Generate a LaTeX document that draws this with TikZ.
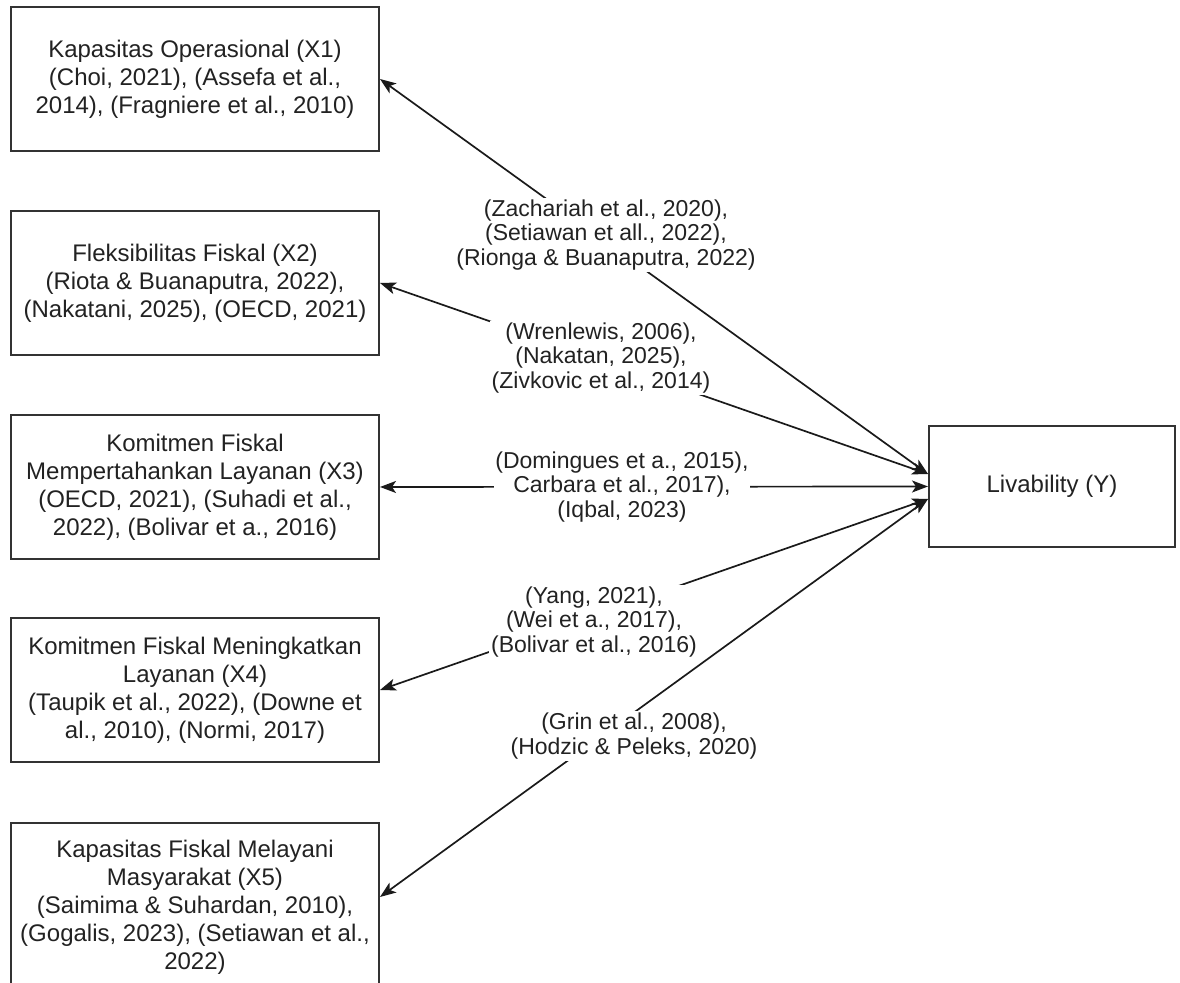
\documentclass[tikz,border=0pt]{standalone}
\usepackage{fontspec}
\setmainfont{Liberation Sans}
\usetikzlibrary{arrows.meta}

\definecolor{boxline}{HTML}{333333}
\definecolor{edgeline}{HTML}{1A1A1A}
\definecolor{txt}{HTML}{222222}

\begin{document}
\begin{tikzpicture}[x=0.5pt, y=-0.5pt,
    >={Stealth[length=8pt, width=6pt, inset=2pt]},
    var/.style={rectangle, draw=boxline, line width=1pt, fill=white, text=txt, align=center,
        minimum width=184pt, minimum height=72pt, inner sep=0pt, font=\fontsize{12pt}{14pt}\selectfont},
    cite/.style={fill=white, text=txt, align=center, inner sep=0.8pt, font=\fontsize{11.5pt}{12.3pt}\selectfont},
    link/.style={<->, draw=edgeline, line width=0.85pt}]
            \useasboundingbox (0,0) rectangle (1180,983);

            % Independent variables
            \node[var] (x1) at (195,79) {Kapasitas Operasional (X1)\\(Choi, 2021), (Assefa et al.,\\2014), (Fragniere et al., 2010)};
            \node[var] (x2) at (195,283) {Fleksibilitas Fiskal (X2)\\(Riota \& Buanaputra, 2022),\\(Nakatani, 2025), (OECD, 2021)};
            \node[var] (x3) at (195,487) {Komitmen Fiskal\\Mempertahankan Layanan (X3)\\(OECD, 2021), (Suhadi et al.,\\2022), (Bolivar et a., 2016)};
            \node[var] (x4) at (195,690) {Komitmen Fiskal Meningkatkan\\Layanan (X4)\\(Taupik et al., 2022), (Downe et\\al., 2010), (Normi, 2017)};
            \node[var, minimum height=84pt] (x5) at (195,907) {Kapasitas Fiskal Melayani\\Masyarakat (X5)\\(Saimima \& Suhardan, 2010),\\(Gogalis, 2023), (Setiawan et al.,\\2022)};

            % Dependent variable
            \node[var, minimum width=123pt, minimum height=60.5pt] (y) at (1052,486.5) {Livability (Y)};

            % Arrows
            \draw[link] (x1.east) -- ([yshift=6.25pt]y.west); % X1 and Y
            \draw[link] (x2.east) -- ([yshift=6.25pt]y.west); % X2 and Y
            \draw[link] (x3.east) -- (y.west); % X3 and Y
            \draw[link] (x4.east) -- ([yshift=-6.25pt]y.west); % X4 and Y
            \draw[link] ([yshift=5pt]x5.east) -- ([yshift=-6.25pt]y.west); % X5 and Y

            % Citations on the arrows
            \node[cite] (c1) at (606,235) {(Zachariah et al., 2020),\\(Setiawan et all., 2022),\\(Rionga \& Buanaputra, 2022)};
            \node[cite] (c2) at (601,358) {(Wrenlewis, 2006),\\(Nakatan, 2025),\\(Zivkovic et al., 2014)};
            \node[cite] (c3) at (622,487) {(Domingues et a., 2015),\\Carbara et al., 2017),\\(Iqbal, 2023)};
            \node[cite] (c4) at (594,622) {(Yang, 2021),\\(Wei et a., 2017),\\(Bolivar et al., 2016)};
            \node[cite] (c5) at (634,736) {(Grin et al., 2008),\\(Hodzic \& Peleks, 2020)};

        \end{tikzpicture}
\end{document}
